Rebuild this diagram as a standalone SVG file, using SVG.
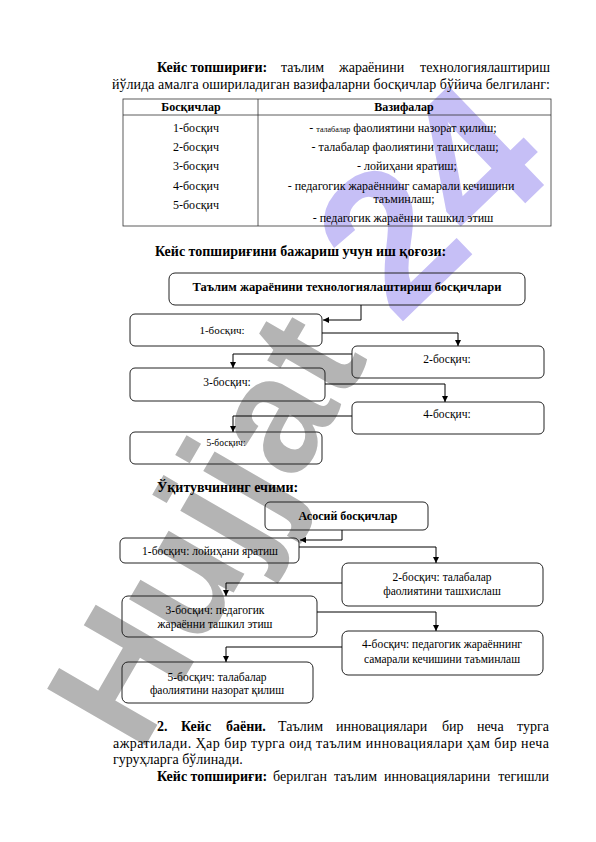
<svg xmlns="http://www.w3.org/2000/svg" width="596" height="842" viewBox="0 0 596 842">
<defs>
<style>
.t{font-family:"Liberation Serif","Times New Roman",serif;fill:#000}
.p{font-size:14px}
.s{font-size:12px}
.f{font-size:11.5px}
.b{font-weight:bold}
.box{fill:none;stroke:#222;stroke-width:1}
.grid{stroke:#333;stroke-width:0.8;fill:none}
.conn path{fill:none;stroke:#000;stroke-width:1;marker-end:url(#ah)}
.wm{font-family:"Liberation Sans",Arial,sans-serif;font-weight:bold}
</style>
<marker id="ah" markerUnits="userSpaceOnUse" markerWidth="8" markerHeight="8" refX="6" refY="3" orient="auto"><path d="M0,0 L6,3 L0,6 z" fill="#000"/></marker>
</defs>
<rect x="0" y="0" width="596" height="842" fill="#fff"/>
<g id="watermark">
<text class="wm" font-size="165" fill="#b4b4b4" transform="translate(140,755) rotate(-60)">Hujjat</text>
<text class="wm" font-size="200" fill="#c6bff6" transform="translate(398,326) rotate(-44)">24</text>
</g>
<g id="para1">
<text class="t p b" x="157" y="72">Кейс топшириғи:</text>
<text class="t p" x="281" y="72">таълим</text>
<text class="t p" x="339" y="72">жараёнини</text>
<text class="t p" x="550" y="72" text-anchor="end">технологиялаштириш</text>
<text class="t p" x="112" y="89" textLength="438" lengthAdjust="spacing">йўлида амалга ошириладиган вазифаларни босқичлар бўйича белгиланг:</text>
</g>
<g id="table">
<rect class="grid" x="123" y="99" width="428" height="127"/>
<line class="grid" x1="123" y1="115" x2="551" y2="115"/>
<line class="grid" x1="258" y1="99" x2="258" y2="226"/>
<text class="t s b" x="191" y="111" text-anchor="middle">Босқичлар</text>
<text class="t s b" x="404" y="111" text-anchor="middle">Вазифалар</text>
<text class="t s" x="173" y="132">1-босқич</text>
<text class="t s" x="173" y="151">2-босқич</text>
<text class="t s" x="173" y="170">3-босқич</text>
<text class="t s" x="173" y="190">4-босқич</text>
<text class="t s" x="173" y="209">5-босқич</text>
<text class="t s" x="403" y="132" text-anchor="middle">- <tspan font-size="8">талабалар</tspan> фаолиятини назорат қилиш;</text>
<text class="t s" x="405" y="151" text-anchor="middle">- талабалар фаолиятини ташхислаш;</text>
<text class="t s" x="407" y="170" text-anchor="middle">- лойиҳани яратиш;</text>
<text class="t s" x="401" y="190" text-anchor="middle">- педагогик жараённинг самарали кечишини</text>
<text class="t s" x="404" y="203" text-anchor="middle">таъминлаш;</text>
<text class="t s" x="403" y="222" text-anchor="middle">- педагогик жараённи ташкил этиш</text>
</g>
<text class="t p b" x="155" y="256">Кейс топшириғини бажариш учун иш қоғози:</text>
<g id="w-top"><rect class="box" x="169" y="273" width="356" height="32" rx="6"/><text class="t b" font-size="12.5" x="347" y="291" text-anchor="middle">Таълим жараёнини технологиялаштириш босқичлари</text></g>
<g id="w-1"><rect class="box" x="130" y="314" width="192" height="32" rx="5"/><text class="t" font-size="11" x="222" y="334" text-anchor="middle">1-босқич:</text></g>
<g id="w-2"><rect class="box" x="352" y="346" width="192" height="32" rx="5"/><text class="t f" x="447" y="363" text-anchor="middle">2-босқич:</text></g>
<g id="w-3"><rect class="box" x="130" y="368" width="195" height="33" rx="5"/><text class="t f" x="227" y="386" text-anchor="middle">3-босқич:</text></g>
<g id="w-4"><rect class="box" x="352" y="402" width="192" height="32" rx="5"/><text class="t f" x="447" y="418" text-anchor="middle">4-босқич:</text></g>
<g id="w-5"><rect class="box" x="130" y="432" width="192" height="32" rx="5"/><text class="t" font-size="9.5" x="226" y="446" text-anchor="middle">5-босқич:</text></g>
<g class="conn" id="conn-1">
<path d="M361,305 V320 H323"/>
<path d="M322,333 H458 V346"/>
<path d="M352,354 H233 V368"/>
<path d="M325,384 H445 V402"/>
<path d="M352,416 H233 V432"/>
</g>
<text class="t p b" x="157" y="492">Ўқитувчининг ечими:</text>
<g id="s-top"><rect class="box" x="265" y="502" width="163" height="28" rx="5"/><text class="t b" font-size="12" x="348" y="520" text-anchor="middle">Асосий босқичлар</text></g>
<g id="s-1"><rect class="box" x="120" y="538" width="179" height="25" rx="5"/><text class="t f" x="210" y="555" text-anchor="middle">1-босқич: лойиҳани яратиш</text></g>
<g id="s-2"><rect class="box" x="342" y="563" width="201" height="43" rx="6"/><text class="t f" x="442" y="581" text-anchor="middle">2-босқич: талабалар</text><text class="t f" x="442" y="595" text-anchor="middle">фаолиятини ташхислаш</text></g>
<g id="s-3"><rect class="box" x="122" y="596" width="195" height="41" rx="6"/><text class="t f" x="215" y="614" text-anchor="middle">3-босқич: педагогик</text><text class="t f" x="215" y="628" text-anchor="middle">жараённи ташкил этиш</text></g>
<g id="s-4"><rect class="box" x="342" y="631" width="201" height="44" rx="6"/><text class="t f" x="442" y="648" text-anchor="middle">4-босқич: педагогик жараённинг</text><text class="t f" x="442" y="663" text-anchor="middle">самарали кечишини таъминлаш</text></g>
<g id="s-5"><rect class="box" x="122" y="662" width="191" height="41" rx="6"/><text class="t f" x="217" y="681" text-anchor="middle">5-босқич: талабалар</text><text class="t f" x="217" y="694" text-anchor="middle">фаолиятини назорат қилиш</text></g>
<g class="conn" id="conn-2">
<path d="M342,530 V540 H300"/>
<path d="M299,547 H436 V563"/>
<path d="M342,583 H226 V596"/>
<path d="M317,612 H436 V631"/>
<path d="M342,647 H226 V662"/>
</g>
<g id="para2">
<text class="t p b" x="157" y="731">2.</text>
<text class="t p b" x="181" y="731">Кейс</text>
<text class="t p b" x="226" y="731">баёни.</text>
<text class="t p" x="278" y="731">Таълим</text>
<text class="t p" x="336" y="731">инновациялари</text>
<text class="t p" x="442" y="731">бир</text>
<text class="t p" x="477" y="731">неча</text>
<text class="t p" x="549" y="731" text-anchor="end">турга</text>
<text class="t p" x="113" y="748" textLength="436" lengthAdjust="spacing">ажратилади. Ҳар бир турга оид таълим инновациялари ҳам бир неча</text>
<text class="t p" x="113" y="764">гуруҳларга бўлинади.</text>
<text class="t p b" x="157" y="781">Кейс топшириғи:</text>
<text class="t p" x="273" y="781">берилган</text>
<text class="t p" x="334" y="781">таълим</text>
<text class="t p" x="384" y="781">инновацияларини</text>
<text class="t p" x="549" y="781" text-anchor="end">тегишли</text>
</g>
</svg>
